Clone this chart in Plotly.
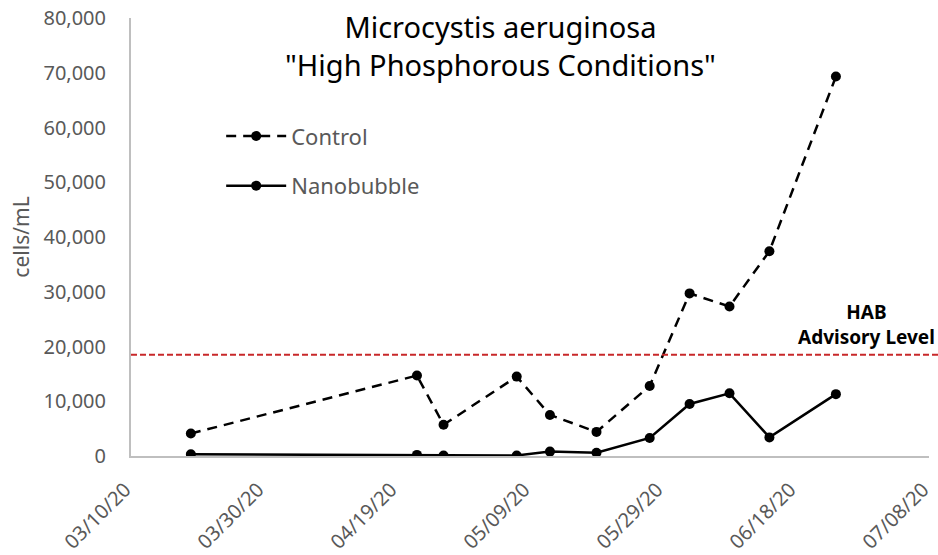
import plotly.graph_objects as go

dates = ["2020-03-19", "2020-04-22", "2020-04-26", "2020-05-07", "2020-05-12",
         "2020-05-19", "2020-05-27", "2020-06-02", "2020-06-08", "2020-06-14", "2020-06-24"]
control = [4100, 14700, 5700, 14500, 7500, 4400, 12800, 29700, 27300, 37400, 69300]
nanobubble = [300, 200, 100, 100, 800, 600, 3300, 9500, 11450, 3400, 11300]
hab_level = 18500
x_range = ["2020-03-10", "2020-07-08"]
tick_dates = ["2020-03-10", "2020-03-30", "2020-04-19", "2020-05-09",
              "2020-05-29", "2020-06-18", "2020-07-08"]
tick_labels = ["03/10/20", "03/30/20", "04/19/20", "05/09/20",
               "05/29/20", "06/18/20", "07/08/20"]
title_text = "Microcystis aeruginosa<br>\"High Phosphorous Conditions\""

FONT = "Noto Sans, Open Sans, sans-serif"
GRAY = "#595959"

fig = go.Figure()
fig.add_trace(go.Scatter(
    x=dates, y=control, mode="lines+markers", name="Control",
    line=dict(color="black", width=2.5, dash="10px,7px"),
    marker=dict(color="black", size=10), legendgroup="c"))
fig.add_trace(go.Scatter(
    x=dates, y=nanobubble, mode="lines+markers", name="Nanobubble",
    line=dict(color="black", width=2.5),
    marker=dict(color="black", size=10), legendgroup="n"))

fig.add_shape(type="line", xref="paper", x0=0, x1=1.02, yref="y", y0=hab_level, y1=hab_level,
              line=dict(color="#C8282A", width=2, dash="6px,3px"))
fig.add_annotation(text="<b>HAB<br>Advisory Level</b>", xref="paper", x=0.922, yref="y", y=24000,
                   showarrow=False, font=dict(family=FONT, size=19, color="black"),
                   xanchor="center", yanchor="middle")
fig.add_annotation(text=title_text, xref="paper", x=0.463, yref="paper", y=0.938,
                   showarrow=False, font=dict(family=FONT, size=29, color="black"),
                   xanchor="center", yanchor="middle")

fig.update_layout(
    width=938, height=555,
    margin=dict(l=131, r=9, t=18, b=99),
    paper_bgcolor="white", plot_bgcolor="white",
    font=dict(family=FONT, color=GRAY),
    legend=dict(x=0.113, y=0.778, xanchor="left", yanchor="top", bgcolor="rgba(0,0,0,0)",
                font=dict(size=22, color=GRAY), tracegroupgap=18, itemwidth=60),
    showlegend=True,
)
fig.update_xaxes(
    type="date", range=x_range, tickvals=tick_dates, ticktext=tick_labels,
    tickangle=-45, showgrid=False, zeroline=False,
    showline=True, linecolor="#BFBFBF", linewidth=2, ticks="",
    tickfont=dict(size=20, color=GRAY), ticklabelstandoff=12, ticklabelshift=-6,
    automargin=False, ticklabeloverflow="allow")
fig.update_yaxes(
    range=[0, 80000], dtick=10000, tickformat=",", showgrid=False, zeroline=False,
    showline=True, linecolor="#BFBFBF", linewidth=2, ticks="",
    tickfont=dict(size=20, color=GRAY), ticklabelstandoff=19, automargin=False,
    title=dict(text="cells/mL", font=dict(size=21, color=GRAY), standoff=8))

fig.write_html("out.html", config={"displayModeBar": False},
               post_script="document.body.style.margin='0';")
